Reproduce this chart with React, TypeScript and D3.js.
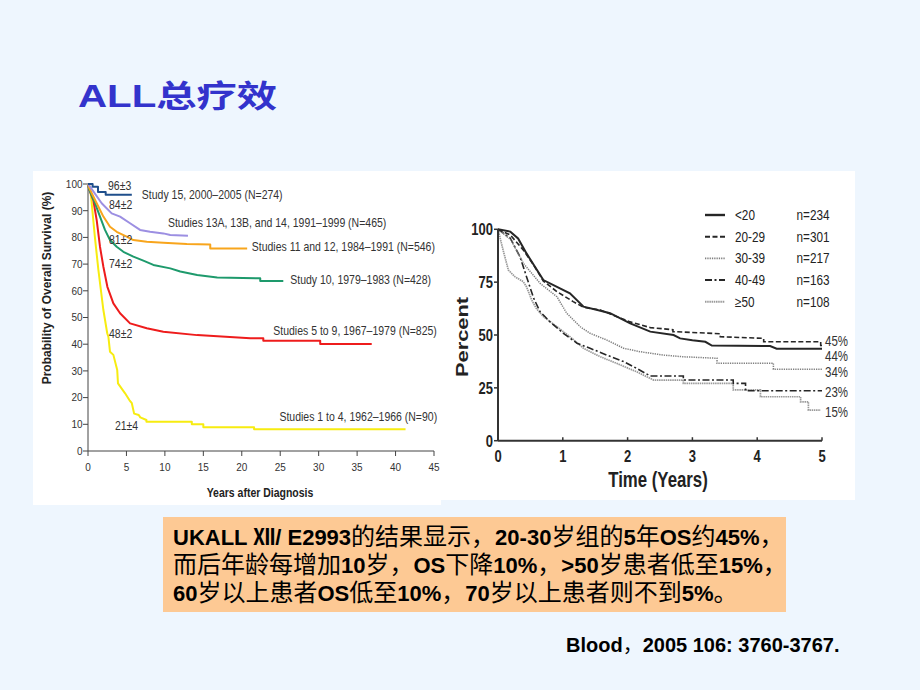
import React from "react";
import * as d3 from "d3";

// ---------------- Left chart data (years after diagnosis, % overall survival)
const leftXTicks = [0, 5, 10, 15, 20, 25, 30, 35, 40, 45];
const leftYTicks = [0, 10, 20, 30, 40, 50, 60, 70, 80, 90, 100];

const study15 = [[0, 100], [0.6, 100], [0.6, 99], [1.3, 99], [1.3, 97], [2.3, 97], [2.3, 96], [5.7, 96]];
const study13 = [[0, 100], [0.26, 99], [1.78, 92.8], [3.08, 89], [4.17, 87.8], [5.47, 85.3], [6.77, 82.8], [8.07, 82.1], [9.8, 81.5], [10.7, 80.9], [13, 80.6]];
const study11 = [[0, 100], [0.17, 98.4], [1.13, 92.8], [2.0, 87.8], [2.86, 84], [3.73, 82.1], [5.03, 80.3], [5.9, 79], [7.64, 78.4], [9.8, 78], [12.85, 77.5], [15.9, 77.3], [15.9, 75.8], [20.7, 75.8]];
const study10 = [[0, 100], [0.17, 97.8], [0.91, 92.8], [1.56, 87.8], [2.21, 82.8], [2.86, 79], [3.73, 76.5], [4.6, 74.6], [5.9, 72.8], [7.2, 71.3], [8.5, 69.7], [10.7, 68.4], [12, 67.2], [14.2, 65.9], [16.8, 65], [22.4, 64.7], [22.4, 63.7], [25.4, 63.7]];
const study5to9 = [[0, 100], [0.17, 97.8], [0.69, 94], [1.13, 86.5], [1.56, 76.5], [2.0, 69], [2.52, 61.5], [3.3, 55.3], [4.17, 51.6], [5.47, 47.8], [7.64, 46], [9.8, 44.7], [14.2, 43.4], [21.1, 42.2], [22.8, 42.2], [22.8, 41.3], [30.2, 41.3], [30.2, 40.1], [36.9, 40.1]];
const study1to4 = [[0, 100], [0.26, 99], [0.48, 92.8], [0.9, 80], [1.35, 67.8], [2.0, 52.8], [2.5, 44.1], [2.65, 42.8], [2.86, 37.2], [3.3, 36], [3.8, 30.3], [3.9, 25.3], [4.8, 21.7], [5.4, 19], [5.7, 17.9], [6.0, 14], [6.6, 13.5], [6.8, 12.6], [7.6, 11.6], [7.6, 11], [13.5, 11], [13.5, 10], [15, 10], [15, 8.9], [21.6, 8.9], [21.6, 8.1], [41.3, 8.1]];

const leftData = [study15, study13, study11, study10, study5to9, study1to4];
const leftNames = [
  "Study 15, 2000–2005 (N=274)",
  "Studies 13A, 13B, and 14, 1991–1999 (N=465)",
  "Studies 11 and 12, 1984–1991 (N=546)",
  "Study 10, 1979–1983 (N=428)",
  "Studies 5 to 9, 1967–1979 (N=825)",
  "Studies 1 to 4, 1962–1966 (N=90)",
];
const leftEstimates = ["96±3", "84±2", "81±2", "74±2", "48±2", "21±4"];
const leftColors = ["#1f4f8c", "#9c8fe2", "#f8a51c", "#1e9a6c", "#ee1c1c", "#f7ec10"];
// label anchors in data space [years, %]
const leftNamePos = [[7.0, 94.4], [10.4, 83.9], [21.3, 74.9], [26.3, 62.5], [24.1, 43.4], [24.9, 11.2]];
const leftEstPos = [[2.6, 97.6], [2.73, 90.6], [2.73, 77.5], [2.73, 68.5], [2.73, 42.3], [3.5, 7.9]];

// ---------------- Right chart data (years, percent)
const rightXTicks = [0, 1, 2, 3, 4, 5];
const rightYTicks = [0, 25, 50, 75, 100];
const ageGroups = ["<20", "20-29", "30-39", "40-49", "≥50"];
const ageN = ["n=234", "n=301", "n=217", "n=163", "n=108"];
const endLabels = ["45%", "44%", "34%", "23%", "15%"];

const ageLt20 = [[0, 100], [0.19, 98.9], [0.31, 95.7], [0.44, 88.6], [0.57, 82.3], [0.7, 76], [0.91, 72.8], [1.11, 69.7], [1.32, 63.4], [1.58, 61.5], [1.73, 60.3], [2.04, 55.5], [2.35, 51.6], [2.71, 50], [2.81, 48.4], [3.0, 47.5], [3.2, 46.8], [3.3, 45], [4.2, 44.8], [4.3, 43.5], [5, 43.5]];
const age20s = [[0, 100], [0.19, 97.3], [0.39, 90.2], [0.55, 83.1], [0.7, 75.5], [0.91, 70.5], [1.16, 65.8], [1.32, 63.1], [1.58, 61.8], [2.04, 56.2], [2.35, 53.5], [2.7, 52.5], [2.7, 51.6], [3.43, 50.6], [3.43, 49.2], [4.1, 48.4], [4.1, 46.8], [4.98, 46.8], [4.98, 45], [5, 45]];
const age30s = [[0, 100], [0.2, 95], [0.39, 84], [0.65, 74.4], [0.91, 68.1], [1.06, 60.3], [1.27, 53.9], [1.42, 50.8], [1.68, 47.6], [1.94, 43.7], [2.19, 42.1], [2.55, 40.5], [2.86, 39.7], [3.38, 39], [3.38, 36.6], [4.25, 36.6], [4.25, 33.8], [5, 33.8]];
const age40s = [[0, 100], [0.19, 95.8], [0.34, 87], [0.44, 77.6], [0.55, 67.4], [0.65, 61], [0.8, 56.3], [1.01, 50.8], [1.22, 46.1], [1.42, 43.7], [1.68, 40.5], [1.94, 37.4], [2.14, 34.2], [2.35, 30.6], [2.86, 30.6], [2.86, 28.7], [3.63, 28.7], [3.63, 27.1], [3.82, 27.1], [3.82, 23.6], [5, 23.6]];
const age50plus = [[0, 100], [0.08, 90], [0.16, 80.7], [0.26, 77.6], [0.39, 75.2], [0.44, 72.8], [0.52, 66.6], [0.59, 62.6], [0.7, 58.7], [0.91, 53.9], [1.11, 49.2], [1.32, 43.7], [1.58, 39.7], [1.83, 36.6], [2.14, 32.6], [2.4, 28.7], [2.86, 28.7], [2.86, 27.1], [3.63, 27.1], [3.63, 24], [4.05, 24], [4.05, 20.8], [4.67, 20.8], [4.67, 18.4], [4.79, 18.4], [4.79, 14.5], [4.98, 14.5]];
const rightData = [ageLt20, age20s, age30s, age40s, age50plus];
const rightStyles = [
  { stroke: "#262626", width: 2, dash: undefined as string | undefined },
  { stroke: "#262626", width: 1.6, dash: "5,2.5" },
  { stroke: "#808080", width: 1.5, dash: "1.3,1" },
  { stroke: "#262626", width: 1.6, dash: "7,2.5,2,2.5" },
  { stroke: "#9a9a9a", width: 1.7, dash: "1.5,0.7" },
];
const endLabelPos = [47.3, 40.3, 32.6, 23, 13.6];

// ---------------- Slide texts
const titleText = "ALL总疗效";
const boxLines = [
  "UKALL Ⅻ/ E2993的结果显示，20-30岁组的5年OS约45%，",
  "而后年龄每增加10岁，OS下降10%，>50岁患者低至15%，",
  "60岁以上患者OS低至10%，70岁以上患者则不到5%。",
];
const citation = "Blood，2005 106: 3760-3767.";

const SANS = "'Liberation Sans', Arial, 'Noto Sans CJK SC', sans-serif";
const CJK = "'Noto Sans CJK SC', sans-serif";
const CJK_RE = /[\u3000-\u303F\u4E00-\u9FFF\uFF00-\uFFEF]/;

function ST({ x, y, sy = 1, rot = 0, anchor = "start", size, weight = 400, fill = "#333", children }: any) {
  const tf = `translate(${x},${y}) scale(1,${sy})${rot ? ` rotate(${rot})` : ""}`;
  return (
    <text transform={tf} textAnchor={anchor} fontSize={size} fontWeight={weight} fill={fill} fontFamily={SANS}>
      {children}
    </text>
  );
}

function mixedRuns(s: string, latinSize: number, cjkSize: number) {
  const parts = s.split(/([\u3000-\u303F\u4E00-\u9FFF\uFF00-\uFFEF]+)/).filter((p) => p.length);
  return parts.map((p, i) => {
    const cjk = CJK_RE.test(p);
    return (
      <tspan key={i} fontFamily={cjk ? CJK : SANS} fontWeight={cjk ? 400 : 700} fontSize={cjk ? cjkSize : latinSize}>
        {p}
      </tspan>
    );
  });
}

export default function App() {
  // left scales
  const xL = d3.scaleLinear().domain([0, 45]).range([88, 434]);
  const yL = d3.scaleLinear().domain([0, 100]).range([451, 184]);
  const lineL = d3.line<number[]>().x((d) => xL(d[0])).y((d) => yL(d[1]));
  // right scales
  const xR = d3.scaleLinear().domain([0, 5]).range([498, 822]);
  const yR = d3.scaleLinear().domain([0, 100]).range([440.7, 229.3]);
  const lineR = d3.line<number[]>().x((d) => xR(d[0])).y((d) => yR(d[1]));
  const legendY = d3.scalePoint<string>().domain(ageGroups).range([215, 301.7]);

  return (
    <svg width={920} height={690} style={{ position: "absolute", left: 0, top: 0 }}>
      <rect x={0} y={0} width={920} height={690} fill="#eef6fe" />
      {/* title */}
      <text transform="translate(78,107) scale(1.3,1)" fontSize={31} fontWeight={700} fill="#3333cc" fontFamily={SANS}>
        {titleText}
      </text>

      {/* panels */}
      <rect x={33} y={171} width={408} height={334} fill="#ffffff" />
      <rect x={441} y={171} width={414} height={329} fill="#ffffff" />

      {/* ---------- Left chart ---------- */}
      <g>
        <line x1={xL(0)} x2={xL(45)} y1={yL(0)} y2={yL(0)} stroke="#444" strokeWidth={1} />
        <line x1={xL(0)} x2={xL(0)} y1={yL(0)} y2={yL(100)} stroke="#444" strokeWidth={1} />
        {leftYTicks.map((t) => (
          <g key={"ly" + t}>
            <line x1={xL(0) - 5} x2={xL(0)} y1={yL(t)} y2={yL(t)} stroke="#444" />
            <ST x={xL(0) - 5.5} y={yL(t) + 3.8} sy={1.1} anchor="end" size={10}>{t}</ST>
          </g>
        ))}
        {leftXTicks.map((t) => (
          <g key={"lx" + t}>
            <line x1={xL(t)} x2={xL(t)} y1={yL(0)} y2={yL(0) + 5} stroke="#444" />
            <ST x={xL(t)} y={471} sy={1.15} anchor="middle" size={10}>{t}</ST>
          </g>
        ))}
        <ST x={51} y={288} rot={-90} anchor="middle" size={12} weight={700} fill="#222">
          Probability of Overall Survival (%)
        </ST>
        <ST x={260} y={497} sy={1.3} anchor="middle" size={10.5} weight={700} fill="#222">
          Years after Diagnosis
        </ST>
        {leftData.map((d, i) => (
          <path key={"lp" + i} d={lineL(d) || ""} fill="none" stroke={leftColors[i]} strokeWidth={2} strokeLinejoin="round" />
        )).reverse()}
        {leftNames.map((n, i) => (
          <ST key={"ln" + i} x={xL(leftNamePos[i][0])} y={yL(leftNamePos[i][1])} sy={1.18} size={10.5}>{n}</ST>
        ))}
        {leftEstimates.map((n, i) => (
          <ST key={"le" + i} x={xL(leftEstPos[i][0])} y={yL(leftEstPos[i][1])} sy={1.18} size={10.5}>{n}</ST>
        ))}
      </g>

      {/* ---------- Right chart ---------- */}
      <g>
        {rightData.map((d, i) => (
          <path key={"rp" + i} d={lineR(d) || ""} fill="none" stroke={rightStyles[i].stroke} strokeWidth={rightStyles[i].width} strokeDasharray={rightStyles[i].dash} />
        )).reverse()}
        <line x1={xR(0)} x2={xR(5)} y1={yR(0)} y2={yR(0)} stroke="#333" strokeWidth={2} />
        <line x1={xR(0)} x2={xR(0)} y1={yR(0)} y2={yR(100)} stroke="#333" strokeWidth={2} />
        {rightYTicks.map((t) => (
          <g key={"ry" + t}>
            <line x1={xR(0) - 4} x2={xR(0)} y1={yR(t)} y2={yR(t)} stroke="#333" strokeWidth={1.5} />
            <ST x={493} y={yR(t) + 6} sy={1.28} anchor="end" size={13} weight={700} fill="#222">{t}</ST>
          </g>
        ))}
        {rightXTicks.map((t) => (
          <g key={"rx" + t}>
            <line x1={xR(t)} x2={xR(t)} y1={yR(0) - 3.5} y2={yR(0)} stroke="#333" strokeWidth={1.5} />
            <ST x={xR(t)} y={461.5} sy={1.28} anchor="middle" size={13} weight={700} fill="#222">{t}</ST>
          </g>
        ))}
        <ST x={468} y={337} sy={1.3} rot={-90} anchor="middle" size={16.8} weight={700} fill="#222">Percent</ST>
        <ST x={658} y={487} sy={1.28} anchor="middle" size={16.8} weight={700} fill="#222">Time (Years)</ST>
        {ageGroups.map((g, i) => (
          <g key={"lg" + i}>
            <line x1={705} x2={725} y1={legendY(g)} y2={legendY(g)} stroke={rightStyles[i].stroke} strokeWidth={rightStyles[i].width + 0.4} strokeDasharray={rightStyles[i].dash} />
            <ST x={735} y={(legendY(g) as number) + 5} sy={1.22} size={11.75} fill="#222">{g}</ST>
            <ST x={796.5} y={(legendY(g) as number) + 5} sy={1.22} size={11.75} fill="#222">{ageN[i]}</ST>
          </g>
        ))}
        {endLabels.map((l, i) => (
          <ST key={"el" + i} x={825} y={yR(endLabelPos[i]) + 5} sy={1.25} size={11.5} fill="#333">{l}</ST>
        ))}
      </g>

      {/* text box */}
      <rect x={163} y={517} width={623} height={95} fill="#fdc994" />
      {boxLines.map((l, i) => (
        <text key={"bl" + i} x={173} y={545 + i * 28} fill="#000">
          {mixedRuns(l, 22, 24)}
        </text>
      ))}

      {/* citation */}
      <text x={566} y={652} fill="#000">{mixedRuns(citation, 20, 20)}</text>
    </svg>
  );
}
